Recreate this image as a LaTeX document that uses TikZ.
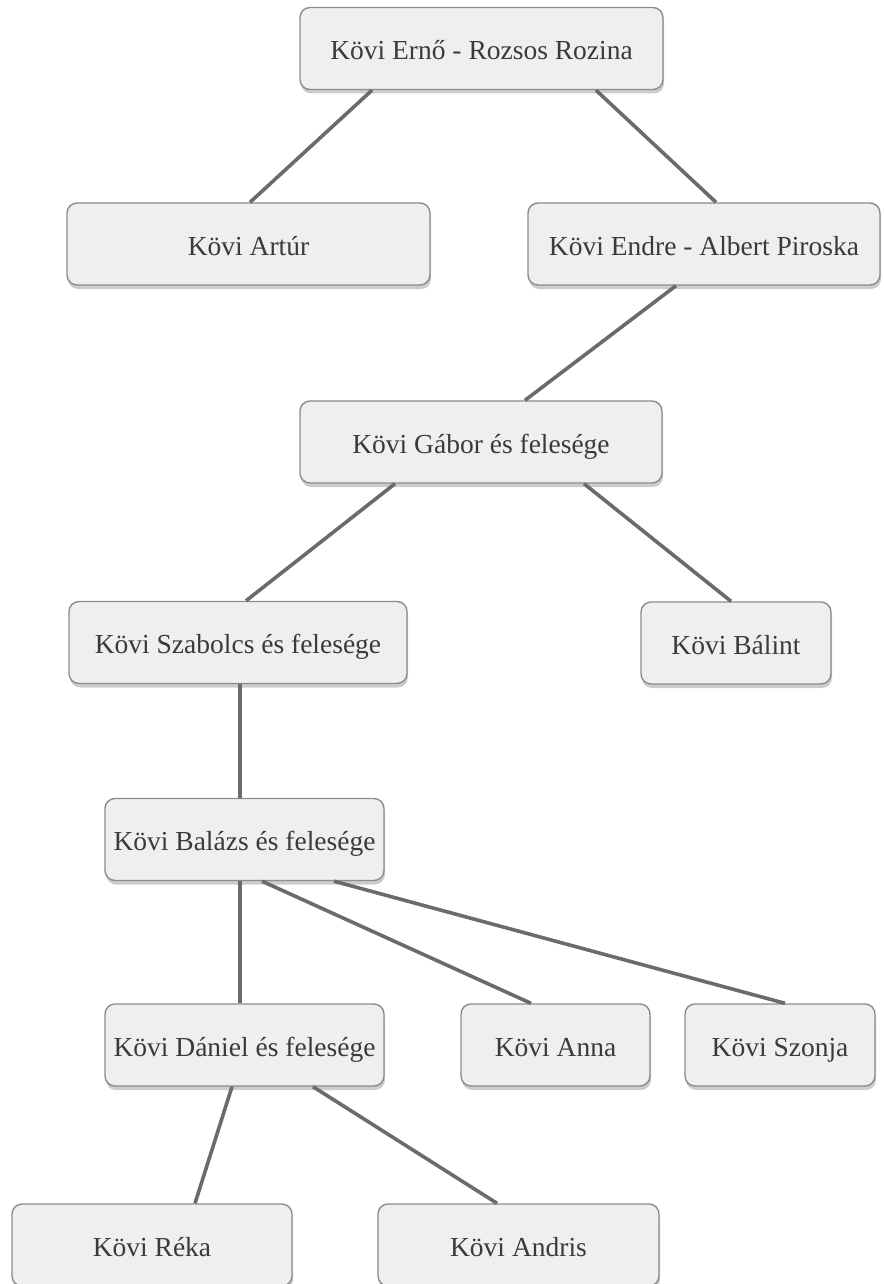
\documentclass[tikz,border=0pt]{standalone}
\usepackage{fontspec}
\setmainfont{Liberation Serif}
\usetikzlibrary{shadows}
\definecolor{boxfill}{HTML}{EEEFF1}
\definecolor{boxline}{HTML}{8C8C8C}
\definecolor{edgecol}{HTML}{6B6B6B}
\definecolor{txtcol}{HTML}{3A3A3A}
\tikzset{
  person/.style={draw=boxline, line width=1.4pt, fill=boxfill, rounded corners=10pt,
    inner sep=0pt, minimum height=82pt, text=txtcol,
    text height=23pt, text depth=1pt,
    font=\fontsize{27.5}{32}\selectfont,
    drop shadow={shadow xshift=1pt, shadow yshift=-4pt, opacity=0.2, fill=black}},
  link/.style={draw=edgecol, line width=3.6pt}
}
\begin{document}
\begin{tikzpicture}[x=1pt,y=-1pt]
\useasboundingbox (0,0) rectangle (883,1284);
\node[person, minimum width=363pt] (ern) at (481.5,48.5) {Kövi Ernő - Rozsos Rozina};
\node[person, minimum width=363pt] (art) at (248.5,244) {Kövi Artúr};
\node[person, minimum width=352pt] (end) at (704,244) {Kövi Endre - Albert Piroska};
\node[person, minimum width=362pt] (gab) at (481,442) {Kövi Gábor és felesége};
\node[person, minimum width=338pt] (sza) at (238,642.5) {Kövi Szabolcs és felesége};
\node[person, minimum width=190pt] (bal) at (736,643) {Kövi Bálint};
\node[person, minimum width=279pt] (blz) at (244.5,839.5) {Kövi Balázs és felesége};
\node[person, minimum width=279pt] (dan) at (244.5,1045) {Kövi Dániel és felesége};
\node[person, minimum width=189pt] (ann) at (555.5,1045) {Kövi Anna};
\node[person, minimum width=190pt] (szo) at (780,1045) {Kövi Szonja};
\node[person, minimum width=280pt] (rek) at (152,1245) {Kövi Réka};
\node[person, minimum width=281pt] (and) at (518.5,1245) {Kövi Andris};

\draw[link] ([xshift=-109.5pt]ern.south) -- ([xshift=1.5pt]art.north);
\draw[link] ([xshift=114.5pt]ern.south) -- ([xshift=12pt]end.north);
\draw[link] ([xshift=-28pt]end.south) -- ([xshift=44pt]gab.north);
\draw[link] ([xshift=-86pt]gab.south) -- ([xshift=8pt]sza.north);
\draw[link] ([xshift=103pt]gab.south) -- ([xshift=-5pt]bal.north);
\draw[link] ([xshift=2pt]sza.south) -- ([xshift=-4.5pt]blz.north);
\draw[link] ([xshift=-4.5pt]blz.south) -- ([xshift=-4.5pt]dan.north);
\draw[link] ([xshift=17.5pt]blz.south) -- ([xshift=-24.5pt]ann.north);
\draw[link] ([xshift=89.5pt]blz.south) -- ([xshift=5pt]szo.north);
\draw[link] ([xshift=-12.5pt]dan.south) -- ([xshift=43pt]rek.north);
\draw[link] ([xshift=68.5pt]dan.south) -- ([xshift=-21.5pt]and.north);
\end{tikzpicture}
\end{document}
